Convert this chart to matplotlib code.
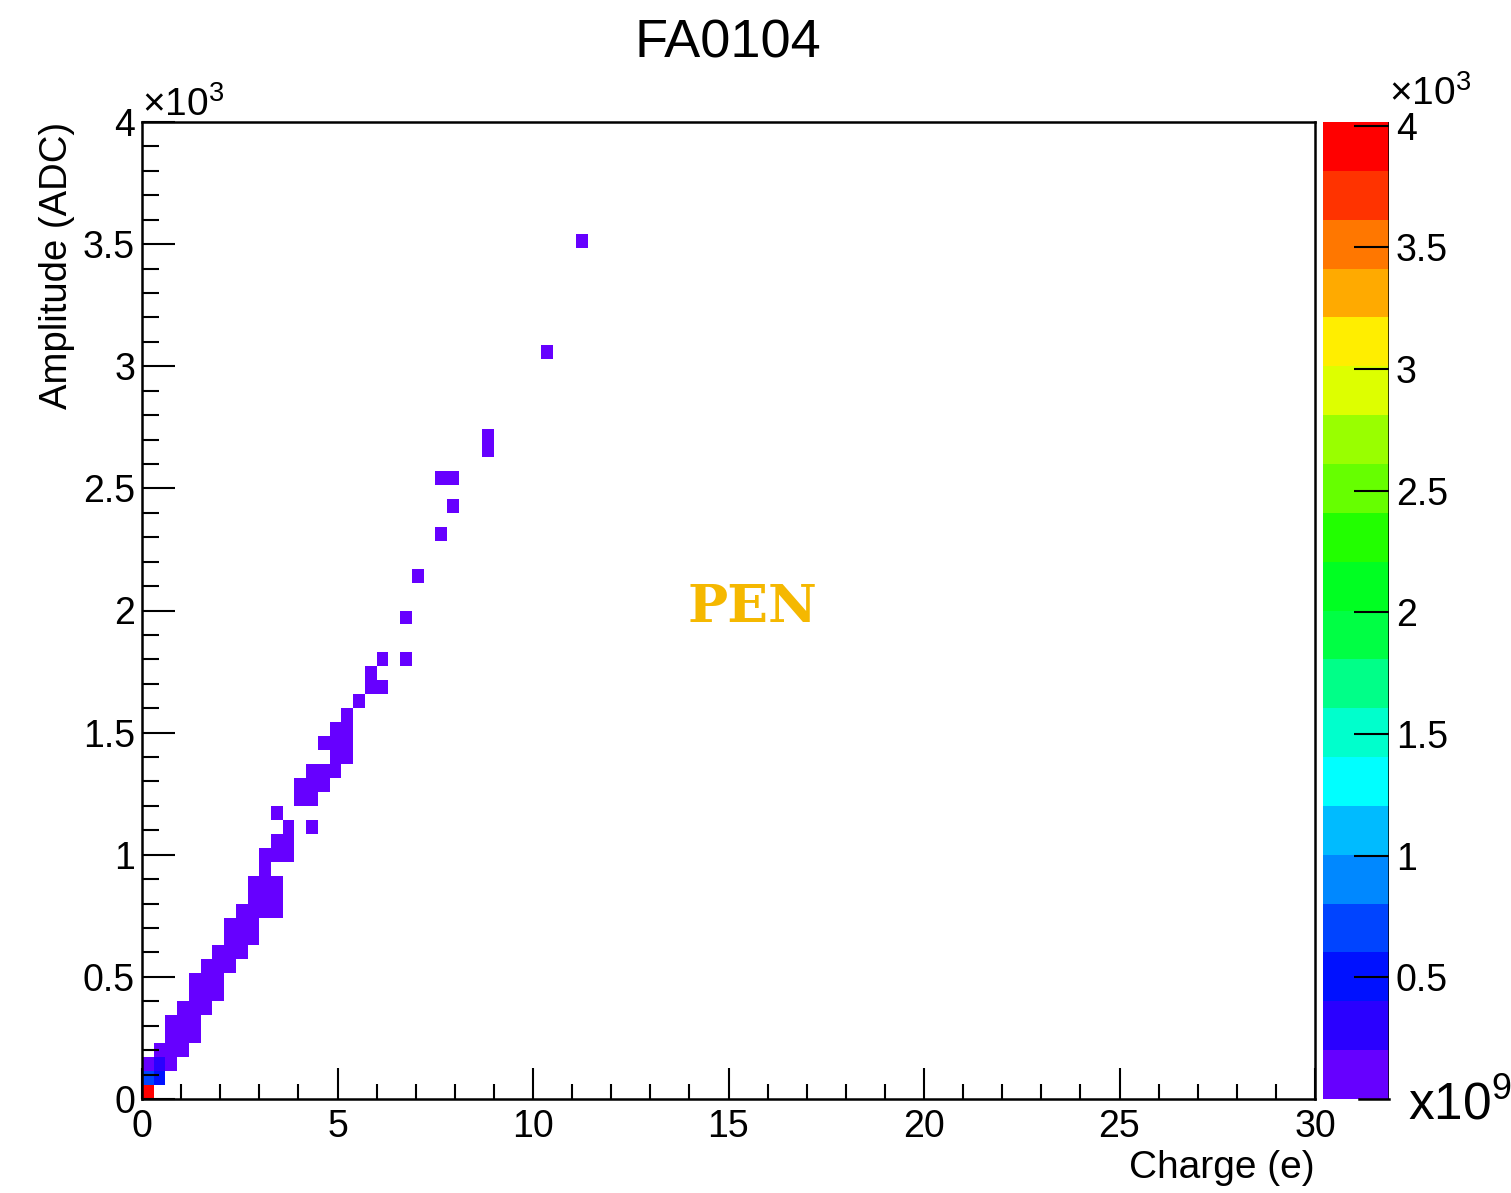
import numpy as np
import matplotlib
matplotlib.use("Agg")
import matplotlib.pyplot as plt
from matplotlib.colors import ListedColormap, BoundaryNorm
from matplotlib.ticker import MultipleLocator

plt.rcParams['font.family'] = ['Liberation Sans', 'DejaVu Sans']
plt.rcParams['mathtext.fontset'] = 'custom'
plt.rcParams['mathtext.rm'] = 'Liberation Sans'

# binning of the histogram: 100 bins in charge, 70 bins in amplitude
n_xbins, x_max = 100, 30.0
n_ybins, y_max = 70, 4000.0

# filled bins (bin indices)
bin_x = [0,
         0, 1,
         0, 1, 2,
         1, 2, 3,
         2, 3, 4,
         2, 3, 4,
         3, 4, 5,
         4, 5, 6,
         4, 5, 6,
         5, 6, 7,
         6, 7, 8,
         7, 8, 9,
         7, 8, 9,
         8, 9, 10, 11,
         9, 10, 11,
         9, 10, 11,
         10,
         10, 11, 12,
         11, 12,
         12, 14,
         11,
         13, 14,
         13, 14, 15,
         14, 15, 16,
         16, 17,
         15, 16, 17,
         16, 17,
         17,
         18,
         19, 20,
         19,
         20, 22,
         22,
         23,
         25,
         26,
         25, 26,
         29,
         29,
         34,
         37]
bin_y = [0,
         1, 1,
         2, 2, 2,
         3, 3, 3,
         4, 4, 4,
         5, 5, 5,
         6, 6, 6,
         7, 7, 7,
         8, 8, 8,
         9, 9, 9,
         10, 10, 10,
         11, 11, 11,
         12, 12, 12,
         13, 13, 13, 13,
         14, 14, 14,
         15, 15, 15,
         16,
         17, 17, 17,
         18, 18,
         19, 19,
         20,
         21, 21,
         22, 22, 22,
         23, 23, 23,
         24, 24,
         25, 25, 25,
         26, 26,
         27,
         28,
         29, 29,
         30,
         31, 31,
         34,
         37,
         40,
         42,
         44, 44,
         46,
         47,
         53,
         61]
# bin contents in units of 10^3 (colour scale), default low level
special = {(0, 0): 3.95, (0, 1): 0.7, (1, 1): 0.5, (1, 2): 0.3}
contents = [special.get((i, j), 0.1) for i, j in zip(bin_x, bin_y)]

# ROOT-like 20 level palette
palette = ['#6600FF', '#2A00FF', '#0011FF', '#0044FF', '#0088FF',
           '#00BBFF', '#00FFFF', '#00FFCC', '#00FF88', '#00FF44',
           '#00FF22', '#22FF00', '#66FF00', '#99FF00', '#DDFF00',
           '#FFEE00', '#FFAA00', '#FF7700', '#FF3300', '#FF0000']
z_max = 4.015

x_edges = np.linspace(0, x_max, n_xbins + 1)
y_edges = np.linspace(0, y_max, n_ybins + 1)
x_width = x_max / n_xbins
y_width = y_max / n_ybins
charge = (np.array(bin_x) + 0.5) * x_width
amplitude = (np.array(bin_y) + 0.5) * y_width

H, _, _ = np.histogram2d(charge, amplitude, bins=[x_edges, y_edges], weights=contents)
H = np.where(H > 0, H, np.nan)

cmap = ListedColormap(palette)
levels = np.linspace(0, z_max, len(palette) + 1)
norm = BoundaryNorm(levels, cmap.N)

W, Hpx = 1511, 1193
fig = plt.figure(figsize=(W / 100, Hpx / 100), dpi=100)
ax = fig.add_axes([142 / W, 94 / Hpx, 1173 / W, 977 / Hpx])
mesh = ax.pcolormesh(x_edges, y_edges, H.T, cmap=cmap, norm=norm)

ax.set_xlim(0, x_max)
ax.set_ylim(0, y_max)
ax.xaxis.set_major_locator(MultipleLocator(5))
ax.xaxis.set_minor_locator(MultipleLocator(1))
ax.yaxis.set_major_locator(MultipleLocator(500))
ax.yaxis.set_minor_locator(MultipleLocator(100))
ax.set_yticklabels([f"{v / 1000:g}" for v in ax.get_yticks()])
ax.tick_params(which='both', direction='in', top=False, right=False, width=1.5,
               labelsize=27, color='black')
ax.tick_params(axis='y', which='major', length=24, pad=5)
ax.tick_params(axis='y', which='minor', length=12)
ax.tick_params(axis='x', which='major', length=22, pad=7)
ax.tick_params(axis='x', which='minor', length=11)
for s in ax.spines.values():
    s.set_linewidth(1.8)

# colour bar
cax = fig.add_axes([1323 / W, 94 / Hpx, 66 / W, 977 / Hpx])
cb = fig.colorbar(mesh, cax=cax)
cb.outline.set_visible(False)
cticks = [0.5, 1, 1.5, 2, 2.5, 3, 3.5, 4]
cb.set_ticks(cticks)
cb.set_ticklabels([f"{t:g}" for t in cticks])
cax.minorticks_off()
cax.yaxis.set_ticks_position('right')
cax.tick_params(direction='in', length=25, width=1.5, labelsize=27, pad=5)
cax.axvline(1, color='black', lw=1.8)
cax.plot([0.55, 1], [0, 0], color='black', lw=1.8, transform=cax.transAxes, clip_on=False)

# texts
fig.text(728 / W, 1 - 43 / Hpx, "FA0104", ha='center', va='center', fontsize=39)
fig.text(57 / W, 1 - 122 / Hpx, "Amplitude (ADC)", rotation=90, ha='center', va='top',
         fontsize=27.5)
fig.text(1315 / W, 1 - 1168 / Hpx, "Charge (e)", ha='right', va='center', fontsize=28)
fig.text(142 / W, 1 - 116 / Hpx, r"$\mathregular{\times10^{3}}$", ha='left',
         va='baseline', fontsize=28)
fig.text(1389 / W, 1 - 105 / Hpx, r"$\mathregular{\times10^{3}}$", ha='left',
         va='baseline', fontsize=28)
fig.text(1408 / W, 1 - 1119 / Hpx, r"$\mathregular{x10^{9}}$", ha='left',
         va='baseline', fontsize=37)
fig.text(752 / W, 1 - 608 / Hpx, "PEN", ha='center', va='center', fontsize=38.5,
         family='DejaVu Serif', weight='bold', color='#F5B800')

fig.savefig("out.png", dpi=100)
